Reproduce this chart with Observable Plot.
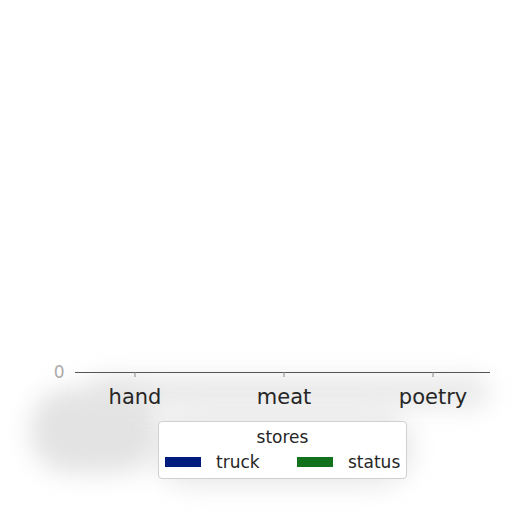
<!DOCTYPE html>
<html>
<head>
<meta charset="utf-8">
<script src="https://cdn.jsdelivr.net/npm/d3@7"></script>
<script src="https://cdn.jsdelivr.net/npm/@observablehq/plot@0.6"></script>
<style>
  html, body { margin: 0; padding: 0; background: #fff; }
  #wrap { position: relative; width: 512px; height: 512px; overflow: hidden; font-family: "DejaVu Sans", sans-serif; }
  .smudge { position: absolute; background: #e3e3e3; filter: blur(12px); border-radius: 40px; }
  #chart { position: absolute; left: 0; top: 0; }
  #legend { position: absolute; left: 158px; top: 421px; width: 247px; height: 56px; background: #fff;
    border: 1px solid #d0d0d0; border-radius: 4px; font-size: 17px; color: #262626; }
  #legend .title { position: absolute; top: 5px; width: 100%; text-align: center; }
  #legend .item { position: absolute; top: 30px; display: flex; align-items: center; }
  #legend .sw { width: 36px; height: 10px; margin-right: 15px; }
</style>
</head>
<body>
<div id="wrap">
  <div class="smudge" style="left:30px;top:388px;width:130px;height:85px;"></div>
  <div class="smudge" style="left:90px;top:376px;width:400px;height:32px;opacity:0.8;"></div>
  <div class="smudge" style="left:152px;top:412px;width:262px;height:74px;opacity:0.8;"></div>
  <div id="chart"></div>
  <div id="legend"></div>
</div>
<script>
const categories = ["hand", "meat", "poetry"];
const seriesNames = ["truck", "status"];
const truckValues = [0, 0, 0];
const statusValues = [0, 0, 0];
const seriesColors = ["#001c7f", "#12711c"];
const yTicks = [0];

const rows = [];
categories.forEach((c, i) => {
  rows.push({category: c, series: "truck", value: truckValues[i]});
  rows.push({category: c, series: "status", value: statusValues[i]});
});

const plot = Plot.plot({
  width: 512,
  height: 410,
  marginLeft: 60,
  marginRight: 5,
  marginTop: 20,
  marginBottom: 38,
  style: {background: "transparent", fontFamily: "DejaVu Sans, sans-serif"},
  x: {domain: categories, padding: 0},
  y: {domain: [0, 1]},
  color: {domain: seriesNames, range: seriesColors},
  marks: [
    Plot.barY(rows.filter(d => d.series === "truck"), {x: "category", y: "value", fill: "series", insetLeft: 20, insetRight: 74}),
    Plot.barY(rows.filter(d => d.series === "status"), {x: "category", y: "value", fill: "series", insetLeft: 74, insetRight: 20}),
    Plot.ruleY([0], {stroke: "#555", strokeWidth: 1.2, insetLeft: 15, insetRight: 17}),
    Plot.axisX({tickSize: 5, tickPadding: 12, fontSize: 21, stroke: "#888", fill: "#262626", label: null}),
    Plot.axisY({ticks: yTicks, tickFormat: d3.format("d"), tickSize: 0, tickPadding: -4, fontSize: 17, fill: "#aaa", label: null})
  ]
});
document.getElementById("chart").appendChild(plot);

const legend = document.getElementById("legend");
const t = document.createElement("div");
t.className = "title";
t.textContent = "stores";
legend.appendChild(t);
const lefts = [6, 138];
seriesNames.forEach((s, i) => {
  const it = document.createElement("div");
  it.className = "item";
  it.style.left = lefts[i] + "px";
  const sw = document.createElement("div");
  sw.className = "sw";
  sw.style.background = seriesColors[i];
  const lab = document.createElement("span");
  lab.textContent = s;
  it.appendChild(sw);
  it.appendChild(lab);
  legend.appendChild(it);
});
</script>
</body>
</html>
